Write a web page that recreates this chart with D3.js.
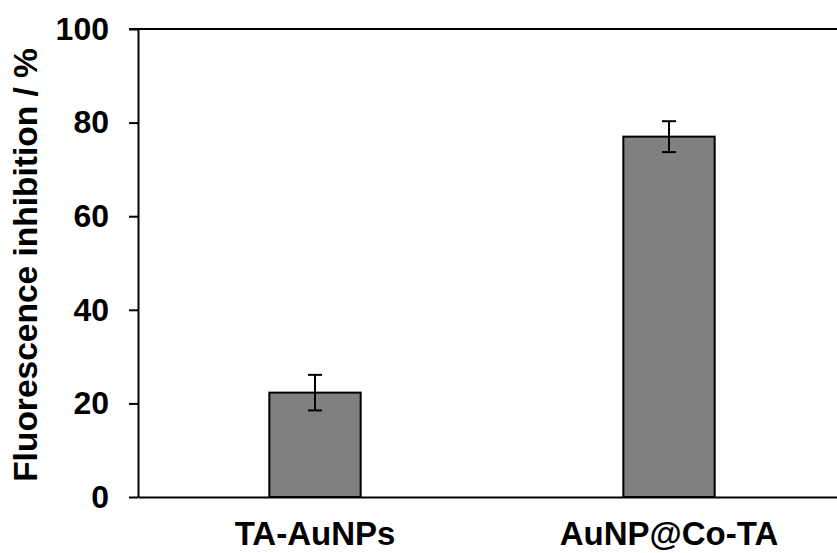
<!DOCTYPE html>
<html>
<head>
<meta charset="utf-8">
<script src="https://cdn.jsdelivr.net/npm/d3@7"></script>
<style>
  html, body { margin: 0; padding: 0; background: #fff; }
  svg { display: block; font-family: "Liberation Sans", Arial, sans-serif; font-weight: bold; }
</style>
</head>
<body>
<svg id="chart" width="837" height="553"></svg>
<script>
// data
const categories = ["TA-AuNPs", "AuNP@Co-TA"];
const values = [22.3, 77.0];
const errors = [3.8, 3.3];
const yTicks = [0, 20, 40, 60, 80, 100];

const W = 837, H = 553;
// plot area runs a little past the right edge of the picture
const m = { top: 29, right: -9, bottom: 56, left: 138 };
const w = W - m.left - m.right;
const h = H - m.top - m.bottom;

const svg = d3.select("#chart");
const g = svg.append("g").attr("transform", `translate(${m.left},${m.top})`);

const x = d3.scaleBand().domain(categories).range([0, w])
    .paddingInner(0.742).paddingOuter(0.371);
const y = d3.scaleLinear().domain([0, 100]).range([h, 0]);

// frame: top and right edges
g.append("line").attr("x1", -9).attr("x2", w).attr("y1", 0).attr("y2", 0)
    .attr("stroke", "#000").attr("stroke-width", 2);
g.append("line").attr("x1", w).attr("x2", w).attr("y1", 0).attr("y2", h)
    .attr("stroke", "#000").attr("stroke-width", 2);

// bars
g.selectAll("rect.bar")
    .data(values)
    .join("rect")
    .attr("class", "bar")
    .attr("x", (d, i) => x(categories[i]))
    .attr("width", x.bandwidth())
    .attr("y", d => y(d))
    .attr("height", d => h - y(d))
    .attr("fill", "#808080")
    .attr("stroke", "#000")
    .attr("stroke-width", 2);

// error bars
const capW = 14;
const eb = g.selectAll("g.err")
    .data(values)
    .join("g")
    .attr("class", "err")
    .attr("transform", (d, i) => `translate(${x(categories[i]) + x.bandwidth() / 2},0)`)
    .attr("stroke", "#000").attr("stroke-width", 2);
eb.append("line").attr("y1", (d, i) => y(d + errors[i])).attr("y2", (d, i) => y(d - errors[i]));
eb.append("line").attr("x1", -capW / 2).attr("x2", capW / 2)
    .attr("y1", (d, i) => y(d + errors[i])).attr("y2", (d, i) => y(d + errors[i]));
eb.append("line").attr("x1", -capW / 2).attr("x2", capW / 2)
    .attr("y1", (d, i) => y(d - errors[i])).attr("y2", (d, i) => y(d - errors[i]));

// y axis
const yAxis = g.append("g")
    .call(d3.axisLeft(y).tickValues(yTicks).tickSize(9).tickPadding(20).tickSizeOuter(0));
yAxis.select(".domain").attr("stroke-width", 2);
yAxis.selectAll(".tick line").attr("stroke-width", 2);
yAxis.selectAll(".tick text")
    .attr("font-size", 32).attr("font-weight", "bold")
    .attr("font-family", "Liberation Sans, Arial, sans-serif")
    .attr("fill", "#000");

// x axis
const xAxis = g.append("g")
    .attr("transform", `translate(0,${h})`)
    .call(d3.axisBottom(x).tickSize(0).tickPadding(25).tickSizeOuter(0));
xAxis.select(".domain").attr("stroke-width", 2);
xAxis.selectAll(".tick text")
    .attr("font-size", 33).attr("font-weight", "bold")
    .attr("font-family", "Liberation Sans, Arial, sans-serif")
    .attr("fill", "#000");

// y title
svg.append("text")
    .attr("transform", `translate(37,${m.top + h / 2 + 2}) rotate(-90)`)
    .attr("text-anchor", "middle")
    .attr("font-size", 33.5)
    .attr("fill", "#000")
    .text("Fluorescence inhibition / %");
</script>
</body>
</html>
